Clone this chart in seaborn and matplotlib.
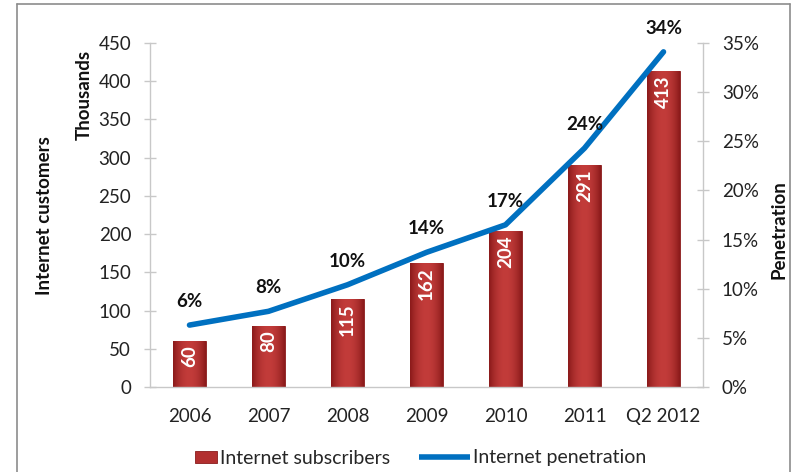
import numpy as np
import pandas as pd
import matplotlib
matplotlib.use("Agg")
import matplotlib.pyplot as plt
import seaborn as sns
from matplotlib.lines import Line2D
from matplotlib.patches import Patch, Rectangle
from matplotlib.legend_handler import HandlerPatch

categories = ["2006", "2007", "2008", "2009", "2010", "2011", "Q2 2012"]
subscribers = [60, 80, 115, 162, 204, 291, 413]
penetration = [6.3, 7.7, 10.4, 13.7, 16.5, 24.3, 34.1]
pen_labels = ["6%", "8%", "10%", "14%", "17%", "24%", "34%"]
left_ticks = [0, 50, 100, 150, 200, 250, 300, 350, 400, 450]
right_ticks = [0, 5, 10, 15, 20, 25, 30, 35]

sns.set_theme(style="white")
plt.rcParams["font.family"] = ["Lato", "DejaVu Sans"]

FS = 13.5

df = pd.DataFrame({"cat": categories, "subs": subscribers,
                   "pos": np.arange(len(categories)), "pen": penetration})

W, H = 796, 472
fig = plt.figure(figsize=(W / 100, H / 100), dpi=100)
ax = fig.add_axes([150 / W, 1 - 387 / H, (703 - 150) / W, (387 - 43) / H])

sns.barplot(data=df, x="cat", y="subs", ax=ax, color="#b22f2f", width=0.41,
            saturation=1, edgecolor="#8a1c1c", linewidth=0.6, zorder=2)

# gradient fill for bars
grad = np.linspace(0, 1, 64)
shape = 1 - (2 * grad - 1) ** 2
cmap = matplotlib.colors.LinearSegmentedColormap.from_list(
    "bar", ["#8a1a1a", "#c23c3a"])
img = shape[np.newaxis, :]
for p in ax.patches:
    x0, y0 = p.get_x(), p.get_y()
    w, h = p.get_width(), p.get_height()
    im = ax.imshow(img, cmap=cmap, aspect="auto", extent=[x0, x0 + w, y0, y0 + h],
                   zorder=2.5, interpolation="bicubic")
    im.set_clip_path(p)

ax.set_xlim(-0.5, len(categories) - 0.5)
ax.set_ylim(0, 450)
ax.set_yticks(left_ticks)
ax.set_yticklabels([str(t) for t in left_ticks], fontsize=FS, color="#222222")
ax.set_xlabel("")
ax.set_ylabel("")
ax.tick_params(axis="x", length=0, labelsize=FS, pad=15, colors="#222222")
ax.set_xticks(np.arange(-0.5, len(categories), 1.0), minor=True)
ax.tick_params(axis="x", which="minor", length=8, direction="out", color="#c8c8c8", width=1)
ax.tick_params(axis="y", length=9, direction="inout", color="#c8c8c8", width=1, pad=9,
               left=True)
for s in ["top", "right"]:
    ax.spines[s].set_visible(False)
for s in ["left", "bottom"]:
    ax.spines[s].set_color("#c8c8c8")
    ax.spines[s].set_linewidth(1)

# bar value labels
for i, v in enumerate(subscribers):
    ax.text(i, v - 6, str(v), rotation=90, ha="center", va="top", color="white",
            fontsize=FS, fontweight="bold", zorder=4)

ax2 = ax.twinx()
sns.lineplot(data=df, x="pos", y="pen", ax=ax2, color="#0070c0", linewidth=4,
             zorder=5, legend=False)
ax2.set_ylim(0, 35)
ax2.set_yticks(right_ticks)
ax2.set_yticklabels([f"{t}%" for t in right_ticks], fontsize=FS, color="#222222")
ax2.set_ylabel("")
ax2.set_xlabel("")
ax2.tick_params(axis="y", length=9, direction="inout", color="#c8c8c8", width=1, pad=9,
                right=True)
for s in ["top", "left", "bottom"]:
    ax2.spines[s].set_visible(False)
ax2.spines["right"].set_color("#c8c8c8")
ax2.spines["right"].set_linewidth(1)

for i, (v, lab) in enumerate(zip(penetration, pen_labels)):
    ax2.annotate(lab, (i, v), xytext=(0, 11), textcoords="offset points",
                 ha="center", va="bottom", fontsize=FS, fontweight="bold",
                 color="#111111", zorder=6)

# axis titles
fig.text(45 / W, 1 - 216 / H, "Internet customers", rotation=90, ha="center",
         va="center", fontsize=FS, fontweight="bold", color="#111111")
fig.text(84 / W, 1 - 95 / H, "Thousands", rotation=90, ha="center",
         va="center", fontsize=FS, fontweight="bold", color="#111111")
fig.text(779 / W, 1 - 230 / H, "Penetration", rotation=90, ha="center",
         va="center", fontsize=FS, fontweight="bold", color="#111111")


# legend
class SmallPatch(HandlerPatch):
    def create_artists(self, legend, orig_handle, xdescent, ydescent, width,
                       height, fontsize, trans):
        rw, rh = 15.8, 8.6
        r = Rectangle((width - rw - xdescent, -ydescent + (height - rh) / 2 - 0.5),
                      rw, rh,
                      facecolor=orig_handle.get_facecolor(),
                      edgecolor=orig_handle.get_edgecolor(), lw=0.6, transform=trans)
        return [r]


handles = [Patch(facecolor="#b22f2f", edgecolor="#8a1c1c"),
           Line2D([0], [0], color="#0070c0", lw=4, solid_capstyle="butt")]
fig.legend(handles, ["Internet subscribers", "Internet penetration"], loc="center",
           bbox_to_anchor=(406 / W, 1 - 458 / H), ncol=2, frameon=False,
           fontsize=14, handlelength=2.65, handletextpad=0.15, columnspacing=1.45,
           handler_map={Patch: SmallPatch()})

# outer frame
for xs, ys in [([17, 17], [4, 480]), ([17, 790], [4, 4]), ([790, 790], [4, 480])]:
    fig.add_artist(Line2D([x / W for x in xs], [1 - y / H for y in ys],
                          color="#8c8c8c", lw=1.2, transform=fig.transFigure))

fig.savefig("out.png", dpi=100)
